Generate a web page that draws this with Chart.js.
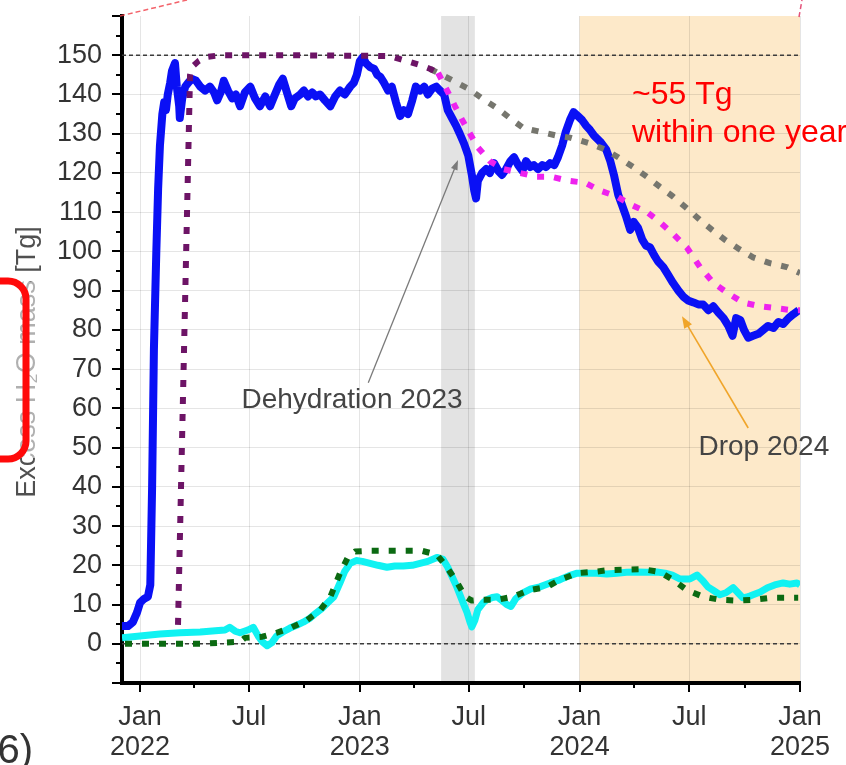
<!DOCTYPE html>
<html>
<head>
<meta charset="utf-8">
<script src="https://cdn.jsdelivr.net/npm/chart.js@4/dist/chart.umd.min.js"></script>
<style>
  html, body { margin: 0; padding: 0; background: #fff; }
  #wrap { width: 846px; height: 765px; overflow: hidden; }
</style>
</head>
<body>
<div id="wrap"><canvas id="c" width="846" height="765"></canvas></div>
<script>
// Time axis: days counted from 1 Jan 2022
const xMajorDays = [0, 181, 365, 546, 730, 912, 1096];
const xMajorLabels = [['Jan', '2022'], ['Jul'], ['Jan', '2023'], ['Jul'], ['Jan', '2024'], ['Jul'], ['Jan', '2025']];
const xMinorDays = [90, 273, 455, 638, 821, 1004];
const yLabelValues = [0, 10, 20, 30, 40, 50, 60, 70, 80, 90, 100, 110, 120, 130, 140, 150];

// Total excess H2O mass (observed)
const totalDays = [-30, -20, -12, -5, 0, 7, 13, 17, 20, 23, 27, 30, 33, 37, 40, 43, 46, 50, 53, 58, 61, 65, 66, 70, 75, 80, 86, 93, 100, 108, 116, 123, 128, 135, 139, 146, 153, 159, 166, 174, 183, 191, 199, 208, 216, 224, 231, 237, 244, 251, 257, 266, 272, 279, 286, 292, 299, 307, 316, 324, 332, 340, 349, 355, 360, 365, 370, 375, 382, 389, 394, 399, 405, 412, 418, 425, 432, 438, 445, 452, 458, 465, 472, 478, 485, 492, 498, 505, 511, 518, 525, 531, 538, 545, 551, 555, 558, 561, 568, 575, 581, 588, 595, 601, 608, 615, 621, 628, 635, 641, 648, 654, 661, 668, 674, 681, 688, 694, 701, 707, 714, 720, 727, 734, 741, 747, 754, 764, 774, 781, 787, 794, 800, 807, 814, 820, 827, 834, 840, 847, 854, 860, 869, 877, 885, 894, 902, 910, 919, 927, 935, 944, 952, 960, 969, 977, 984, 990, 997, 1003, 1010, 1018, 1027, 1035, 1043, 1052, 1060, 1068, 1077, 1085, 1094];
const totalMass = [4.5, 4.5, 5.5, 8, 10.5, 11.5, 12, 15, 40, 75, 100, 116, 127, 135, 138, 136, 140, 143, 146, 148, 142, 137, 134, 139, 142, 143, 144, 143.5, 142, 141, 142, 140.5, 138.5, 141, 143.5, 141, 139, 140, 137, 140.5, 142, 139, 137, 139.5, 137, 140, 142.5, 144, 140.5, 137, 139, 140, 141, 139.5, 140.5, 139.5, 140, 138.5, 137, 139.5, 141, 140, 142, 143, 145, 148.5, 149.5, 148, 147, 146.5, 145, 144.5, 143, 141, 142, 138, 134.5, 136, 135, 138.5, 142, 141, 142, 140, 141.5, 142, 141, 140, 136, 134, 132, 130, 127.5, 124.5, 119.5, 115.5, 113.5, 118, 120, 121, 120, 122.5, 120.5, 119.5, 121, 123, 124, 122, 120.5, 123, 121.5, 122, 121, 122, 121.5, 122.5, 122, 124, 127, 130.5, 133.5, 135.5, 134.5, 133.5, 132, 131, 129.5, 128, 126, 123, 119.5, 114.5, 112, 109, 105.5, 107.5, 106, 103, 101.5, 101, 99, 97.5, 96, 94, 92, 90, 88.5, 87.5, 87, 86.5, 86.5, 85, 86, 84.5, 83, 81, 78.5, 83, 82.5, 80, 78, 78.5, 79, 80, 81, 80.5, 82, 81.5, 83, 84, 85];

// Model: total mass without loss processes
const modelDays = [63, 83, 86, 97, 108, 133, 250, 415, 432, 448, 465, 482, 495];
const modelMass = [4.8, 145, 147, 148.5, 149.5, 150, 150, 149.8, 149, 148.3, 147.5, 146.5, 145.5];

// Model: total mass including the 2023 dehydration
const dehydDays = [495, 510, 523, 535, 548, 561, 581, 603, 631, 659, 684, 711, 739, 764, 792, 814, 842, 863, 885, 908, 930, 952, 975, 1001, 1030, 1058, 1084, 1096];
const dehydMass = [145.5, 141, 137, 133.5, 130, 126.5, 123, 121, 120, 119, 119, 118, 117.5, 115.5, 114, 112, 110, 107.5, 104.5, 101, 96, 92, 89.5, 87, 86, 85.5, 85, 85];

// Model: total mass with sedimentation only
const sedDays = [482, 520, 545, 568, 593, 614, 636, 664, 692, 714, 747, 772, 794, 819, 842, 863, 885, 908, 930, 950, 971, 996, 1018, 1046, 1074, 1096];
const sedMass = [146.5, 143.5, 141.5, 139, 136.5, 134, 131.5, 130.5, 129.5, 129, 127.5, 126, 124, 121.5, 119, 116.5, 114, 111, 108, 105.5, 103, 100.5, 98.5, 97, 96, 94.5];

// Lower branch (observed)
const lowDays = [-30, 0, 33, 66, 100, 125, 141, 149, 158, 166, 179, 188, 196, 203, 211, 219, 227, 237, 249, 261, 271, 282, 292, 302, 312, 322, 332, 340, 349, 359, 369, 382, 395, 410, 423, 437, 452, 465, 478, 493, 503, 511, 520, 526, 535, 543, 548, 551, 556, 561, 570, 576, 585, 593, 601, 609, 616, 624, 636, 649, 664, 681, 697, 712, 726, 742, 759, 775, 792, 808, 825, 842, 858, 872, 884, 897, 913, 925, 935, 943, 953, 963, 973, 985, 993, 1001, 1010, 1018, 1030, 1042, 1054, 1068, 1079, 1091, 1096];
const lowMass = [1.5, 2, 2.5, 2.8, 3, 3.3, 3.5, 4.2, 3.2, 2.8, 3.5, 4.2, 2, 0.5, -0.5, 0.3, 2, 3, 4, 4.8, 5.5, 6.5, 7.8, 9, 10.5, 12, 15.5, 18.5, 20.5, 21.2, 21, 20.5, 20, 19.5, 19.8, 19.8, 20, 20.5, 21, 22, 21.5, 19.5, 16.5, 14.5, 11, 8, 5.5, 4.3, 6, 8.7, 10.5, 11.2, 11.8, 12, 11, 10, 9.5, 11.5, 13, 14, 14.5, 15.5, 16.3, 17.3, 18, 18, 18, 17.8, 18, 18.2, 18.3, 18.2, 18.3, 18, 17.5, 16.5, 16.5, 17.5, 16, 14.5, 13.5, 12.5, 13, 14.3, 13, 11.7, 12, 12.5, 13.2, 14.3, 15, 15.5, 15.2, 15.5, 15];

// Lower branch (model)
const lowModelDays = [-25, 0, 100, 166, 174, 203, 227, 249, 277, 299, 316, 332, 345, 357, 382, 468, 493, 510, 526, 540, 551, 565, 593, 619, 648, 676, 697, 726, 752, 780, 835, 863, 885, 908, 935, 963, 991, 1018, 1046, 1093];
const lowModelMass = [0, 0, 0, 0.5, 1.5, 1.8, 2.8, 4, 6, 8.5, 12, 18, 22, 23.5, 23.7, 23.7, 22.7, 19.4, 15.8, 12, 11, 11.2, 11.2, 12, 13.7, 14.5, 16.3, 18, 18.3, 18.8, 19, 18.3, 16.3, 13.7, 12, 11.2, 11, 11.2, 11.7, 11.7];

// Reference levels
const refDays = [-30, 1096];
const refLevels = [150, 0];

// Highlighted periods
const periods = [
  { from: 500, to: 556, color: '#e3e3e3' },
  { from: 730, to: 1096, color: '#fde9c9' }
];

const pts = (xs, ys) => xs.map((x, i) => ({ x, y: ys[i] }));

const dotted = [7, 10];
const datasets = [
  { data: pts(modelDays, modelMass), borderColor: '#6d1466', borderWidth: 6, borderDash: dotted, order: 1 },
  { data: pts(dehydDays, dehydMass), borderColor: '#ee22ee', borderWidth: 6, borderDash: dotted, order: 1 },
  { data: pts(sedDays, sedMass), borderColor: '#76766e', borderWidth: 6, borderDash: dotted, order: 2 },
  { data: pts(lowModelDays, lowModelMass), borderColor: '#0b6a12', borderWidth: 6, borderDash: dotted, order: 1 },
  { data: pts(totalDays, totalMass), borderColor: '#0a10f5', borderWidth: 8, order: 5 },
  { data: pts(lowDays, lowMass), borderColor: '#10f2f2', borderWidth: 7, order: 6 },
  ...refLevels.map(v => ({
    data: pts(refDays, refDays.map(() => v)), borderColor: '#3c3c3c', borderWidth: 1.5, borderDash: [4, 3], order: 9
  }))
];
datasets.forEach(d => { d.pointRadius = 0; d.fill = false; d.tension = 0; d.borderCapStyle = 'butt'; d.borderJoinStyle = 'round'; });

const notes = {
  dehydration: { text: 'Dehydration 2023', at: [352, 62], tail: [379, 66.5], tip: [528, 123.3], color: '#444', arrow: '#7a7a7a' },
  drop: { text: 'Drop 2024', at: [1036, 50.2], tail: [1010, 55], tip: [900, 83.5], color: '#444', arrow: '#f0a52a' },
  amount: { lines: ['~55 Tg', 'within one year'], at: [817, 139.9], step: 9.7, color: '#ff0000' }
};

const backdrop = {
  id: 'backdrop',
  beforeDraw(chart) {
    const { ctx, chartArea: a, scales: { x } } = chart;
    ctx.save();
    ctx.fillStyle = '#fff';
    ctx.fillRect(0, 0, chart.width, chart.height);
    periods.forEach(p => {
      const x0 = x.getPixelForValue(p.from), x1 = x.getPixelForValue(p.to);
      ctx.fillStyle = p.color;
      ctx.fillRect(x0, a.top, x1 - x0, a.bottom - a.top);
    });
    ctx.restore();
  }
};

function arrow(ctx, x0, y0, x1, y1, color, width, head, half) {
  const ang = Math.atan2(y1 - y0, x1 - x0);
  ctx.strokeStyle = color; ctx.fillStyle = color; ctx.lineWidth = width;
  ctx.beginPath();
  ctx.moveTo(x0, y0);
  ctx.lineTo(x1 - Math.cos(ang) * head * 0.8, y1 - Math.sin(ang) * head * 0.8);
  ctx.stroke();
  ctx.beginPath();
  ctx.moveTo(x1, y1);
  ctx.lineTo(x1 - Math.cos(ang) * head - Math.sin(ang) * half, y1 - Math.sin(ang) * head + Math.cos(ang) * half);
  ctx.lineTo(x1 - Math.cos(ang) * head + Math.sin(ang) * half, y1 - Math.sin(ang) * head - Math.cos(ang) * half);
  ctx.closePath();
  ctx.fill();
}

const decorations = {
  id: 'decorations',
  afterDraw(chart) {
    const { ctx, chartArea: a, scales: { x, y } } = chart;
    const px = d => x.getPixelForValue(d), py = v => y.getPixelForValue(v);
    ctx.save();

    // tick marks, major and minor
    ctx.strokeStyle = '#000'; ctx.lineWidth = 2;
    for (let v = -10; v <= 160; v += 5) {
      const len = v % 10 === 0 ? 10 : 6, yy = Math.round(py(v));
      ctx.beginPath(); ctx.moveTo(a.left - len, yy); ctx.lineTo(a.left, yy); ctx.stroke();
    }
    xMajorDays.concat(xMinorDays).forEach(d => {
      const len = xMajorDays.includes(d) ? 9 : 5, xx = Math.round(px(d));
      ctx.beginPath(); ctx.moveTo(xx, a.bottom); ctx.lineTo(xx, a.bottom + len); ctx.stroke();
    });

    // annotations
    ctx.textBaseline = 'middle';
    ctx.textAlign = 'center';
    const n1 = notes.dehydration;
    arrow(ctx, px(n1.tail[0]), py(n1.tail[1]), px(n1.tip[0]), py(n1.tip[1]), n1.arrow, 1.3, 10, 3.5);
    ctx.fillStyle = n1.color; ctx.font = '28px "Liberation Sans", Arial, sans-serif';
    ctx.fillText(n1.text, px(n1.at[0]), py(n1.at[1]));
    const n2 = notes.drop;
    arrow(ctx, px(n2.tail[0]), py(n2.tail[1]), px(n2.tip[0]), py(n2.tip[1]), n2.arrow, 1.6, 12, 4.5);
    ctx.fillStyle = n2.color;
    ctx.fillText(n2.text, px(n2.at[0]), py(n2.at[1]));
    const n3 = notes.amount;
    ctx.textAlign = 'left'; ctx.fillStyle = n3.color; ctx.font = '32px "Liberation Sans", Arial, sans-serif';
    n3.lines.forEach((t, i) => ctx.fillText(t, px(n3.at[0]), py(n3.at[1] - i * n3.step)));

    // axis title
    ctx.save();
    ctx.translate(28, 362);
    ctx.rotate(-Math.PI / 2);
    ctx.fillStyle = '#505050'; ctx.textAlign = 'center';
    ctx.font = '27px "Liberation Sans", Arial, sans-serif';
    ctx.fillText('Excess H\u2082O mass [Tg]', 0, 0);
    ctx.restore();

    // framed callout at the left margin
    ctx.fillStyle = 'rgba(255,255,255,0.55)';
    ctx.fillRect(0, 282, 44, 176);
    ctx.strokeStyle = '#ff0a0a'; ctx.lineWidth = 7;
    ctx.beginPath();
    ctx.roundRect(-40, 281, 66, 178, 18);
    ctx.stroke();

    // panel number
    ctx.fillStyle = '#333'; ctx.textAlign = 'right'; ctx.textBaseline = 'alphabetic';
    ctx.font = '40px "Liberation Sans", Arial, sans-serif';
    ctx.fillText('(6)', 33, 763);

    // connector lines running off the top edge
    ctx.strokeStyle = 'rgba(240,60,70,0.8)'; ctx.lineWidth = 1.5; ctx.setLineDash([5, 3]);
    ctx.beginPath(); ctx.moveTo(a.left - 2, a.top); ctx.lineTo(187, 0); ctx.stroke();
    ctx.strokeStyle = 'rgba(220,40,90,0.8)';
    ctx.beginPath(); ctx.moveTo(a.right - 1, a.top + 1); ctx.lineTo(a.right + 2, 0); ctx.stroke();
    ctx.restore();
  }
};

// scales keep only the layout padding, so the plot area is fixed
const noPad = s => { s.paddingTop = 0; s.paddingBottom = 0; s.paddingLeft = 0; s.paddingRight = 0; };

const gridColor = 'rgba(0,0,0,0.10)';
new Chart(document.getElementById('c'), {
  type: 'line',
  data: { datasets },
  plugins: [backdrop, decorations],
  options: {
    responsive: false,
    animation: false,
    devicePixelRatio: 1,
    layout: { padding: { left: 0, right: 46, top: 16, bottom: 0 } },
    plugins: { legend: { display: false }, tooltip: { enabled: false } },
    scales: {
      x: {
        type: 'linear', min: -30, max: 1096,
        afterBuildTicks: s => { s.ticks = xMajorDays.concat(xMinorDays).sort((a, b) => a - b).map(v => ({ value: v })); },
        afterFit: s => { s.height = 82; noPad(s); },
        grid: { color: c => (c.tick && xMajorDays.includes(c.tick.value)) ? gridColor : 'transparent', drawTicks: false },
        border: { display: true, color: '#000', width: 4 },
        ticks: {
          autoSkip: false, maxRotation: 0, padding: 20, color: '#333',
          font: { family: '"Liberation Sans", Arial, sans-serif', size: 27, lineHeight: 1.1 },
          callback: v => { const i = xMajorDays.indexOf(v); return i >= 0 ? xMajorLabels[i] : ''; }
        }
      },
      y: {
        min: -10, max: 160,
        afterBuildTicks: s => { const t = []; for (let v = -10; v <= 160; v += 5) t.push({ value: v }); s.ticks = t; },
        afterFit: s => { s.width = 122; noPad(s); },
        grid: { color: c => (c.tick && c.tick.value % 10 === 0 && c.tick.value > -10 && c.tick.value < 160) ? gridColor : 'transparent', drawTicks: false },
        border: { display: true, color: '#000', width: 4 },
        ticks: {
          autoSkip: false, padding: 20, color: '#333',
          font: { family: '"Liberation Sans", Arial, sans-serif', size: 27 },
          callback: v => yLabelValues.includes(v) ? String(v) : ''
        }
      }
    }
  }
});
</script>
</body>
</html>
